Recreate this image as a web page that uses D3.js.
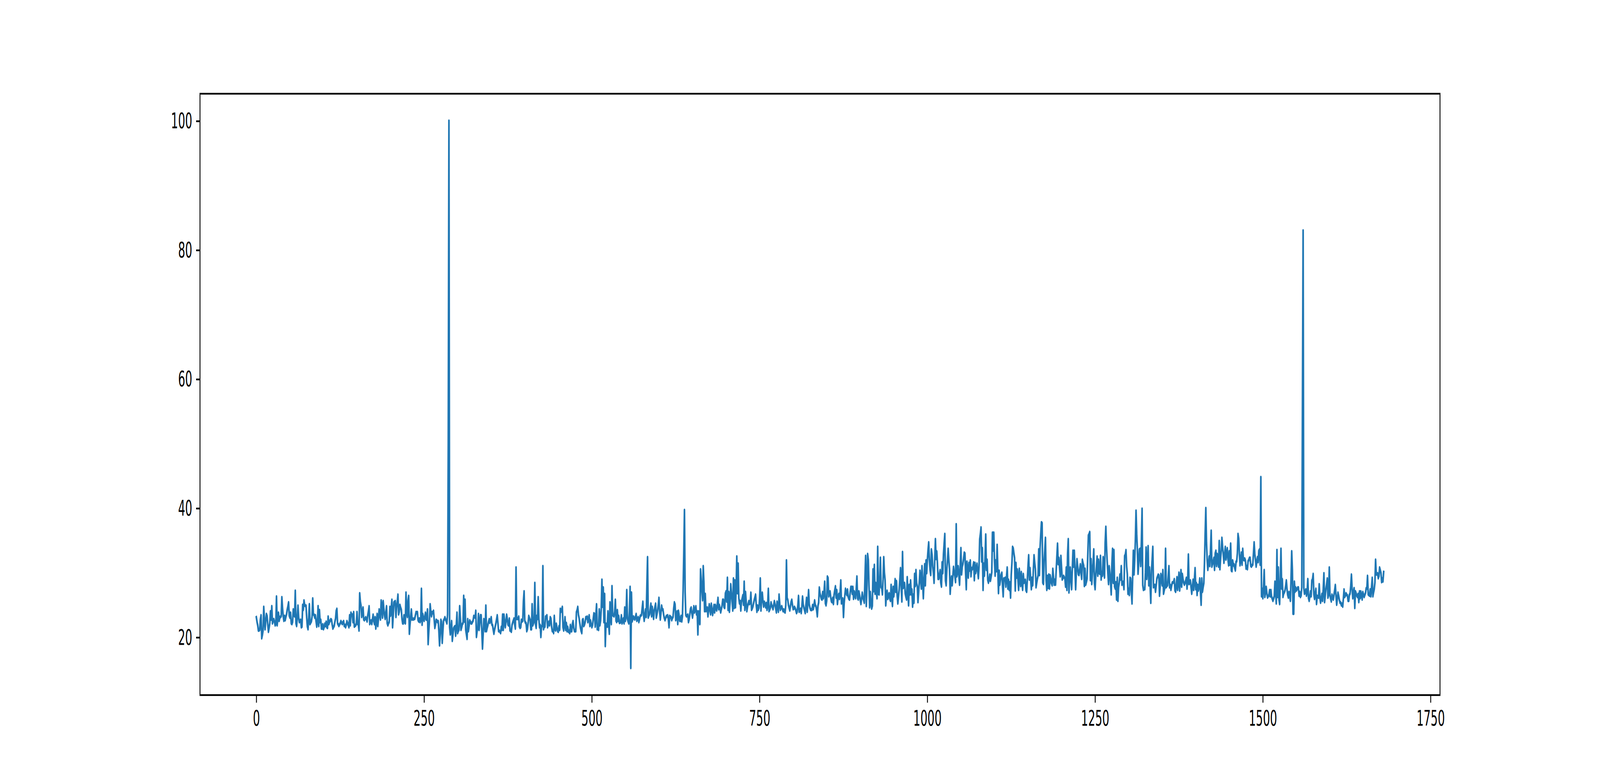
<!DOCTYPE html>
<html>
<head>
<meta charset="utf-8">
<script src="https://cdn.jsdelivr.net/npm/d3@7"></script>
<style>
  html, body { margin: 0; padding: 0; background: #ffffff; overflow: hidden; }
  svg { display: block; }
</style>
</head>
<body>
<svg id="chart" viewBox="0 0 8000 2000" preserveAspectRatio="none"></svg>
<script>
// ---- data (index 0..1680) ----
const values = [
23.1,22.4,21.9,21.1,21.1,21.2,22.8,23.4,19.9,20.4,
21.1,24.7,22.8,21.3,22.6,23.6,23.3,22.0,20.9,21.5,
22.2,24.0,22.8,24.8,22.2,22.6,22.8,22.4,21.9,22.1,
26.3,21.9,22.9,23.8,22.6,23.1,23.2,23.3,26.2,24.5,
23.3,22.6,23.3,22.7,23.2,23.6,24.3,24.8,25.4,23.4,
23.1,23.8,22.2,22.1,22.4,24.3,23.5,23.3,27.2,22.2,
21.8,23.1,24.9,23.1,22.4,22.6,22.7,21.6,21.7,25.0,
24.3,25.7,25.0,24.9,24.9,23.1,21.7,21.3,23.0,25.1,
22.1,22.3,22.5,23.2,26.0,23.6,23.5,23.1,23.4,22.5,
21.7,22.4,24.8,21.8,24.2,22.4,22.7,21.4,21.4,22.0,
21.3,21.6,22.1,21.8,22.4,21.6,21.5,23.2,22.1,22.4,
22.6,22.8,22.7,22.0,21.4,21.6,21.8,22.4,22.9,24.1,
24.4,22.2,22.0,21.8,22.0,22.2,22.5,22.3,22.1,22.3,
22.5,21.8,21.9,21.6,22.0,22.5,22.2,21.9,21.6,23.4,
21.9,23.8,23.5,23.5,22.4,23.9,21.7,21.8,21.9,22.1,
23.9,22.1,22.0,21.1,26.8,25.5,24.9,23.2,23.8,24.6,
22.8,22.7,22.9,23.1,22.8,22.5,23.4,24.0,24.8,22.1,
22.4,22.6,22.1,22.8,23.5,22.6,22.1,23.1,21.4,22.5,
23.6,21.8,22.9,24.3,23.5,22.8,25.7,25.1,23.1,25.6,
24.4,23.4,22.9,23.9,24.8,22.2,21.9,22.2,22.4,24.7,
23.4,24.6,25.8,21.6,23.5,25.4,25.5,25.6,23.2,24.7,
25.5,26.6,23.6,24.0,25.0,24.6,24.3,22.9,22.2,22.2,
23.4,22.4,22.2,26.9,23.8,23.2,25.7,26.4,20.6,22.0,
23.2,24.3,22.8,22.9,22.8,22.9,22.9,23.4,23.9,23.8,
23.9,22.7,22.5,22.9,22.4,22.7,27.5,22.0,23.6,23.0,
22.6,23.2,23.8,22.8,22.8,24.3,19.0,21.0,22.7,25.1,
24.0,23.3,23.9,23.8,24.1,22.8,21.5,22.0,22.7,22.6,
22.4,22.5,21.0,18.8,20.5,22.7,22.4,19.2,21.0,22.6,
22.8,23.1,22.8,22.5,22.2,23.6,50.0,100.0,21.6,20.5,
21.5,22.5,19.5,20.5,21.4,21.6,21.7,20.3,22.0,23.8,
20.7,21.0,21.2,24.8,23.0,21.2,21.6,22.1,22.2,26.4,
22.5,25.8,21.2,20.5,19.8,22.8,21.0,21.8,22.6,22.4,
22.2,22.2,22.4,22.6,23.3,23.2,23.1,24.1,20.1,21.0,
21.4,23.6,21.2,22.3,23.4,23.4,21.0,18.3,20.5,22.8,
22.6,21.0,24.9,21.0,21.5,21.9,22.4,22.8,22.3,22.7,
23.1,22.0,21.9,21.2,20.6,21.2,21.7,22.2,22.8,23.4,
22.2,21.0,21.0,20.9,20.7,21.6,21.2,23.5,21.2,23.5,
22.4,21.6,22.5,23.5,22.8,22.0,21.9,22.9,21.1,21.1,
20.9,21.9,22.3,22.6,22.9,22.0,21.4,30.8,22.9,22.9,
22.9,23.2,21.7,21.5,21.6,22.7,22.5,22.6,25.6,27.1,
22.6,22.3,22.2,21.0,21.3,22.2,23.3,23.0,22.7,21.3,
21.3,25.1,21.9,22.2,22.5,28.4,22.1,21.5,23.3,22.9,
26.2,22.8,21.6,21.9,20.1,21.7,21.8,31.0,21.3,21.7,
21.7,23.2,23.1,23.4,21.6,22.0,22.4,21.9,23.1,22.9,
21.7,21.0,21.0,20.7,23.3,21.3,21.1,22.1,21.5,21.0,
20.9,21.7,21.2,24.4,24.0,24.3,24.7,21.6,21.1,22.0,
23.1,21.2,22.2,21.0,21.6,20.9,21.0,20.7,21.9,21.0,
21.0,22.1,22.5,21.5,21.0,21.0,21.0,23.9,24.2,24.7,
23.5,23.0,22.2,21.5,21.0,20.7,22.7,22.8,21.8,22.0,
22.4,23.1,23.0,23.2,22.4,22.9,23.4,21.8,22.6,22.0,
21.6,21.9,22.8,23.7,23.6,21.7,23.5,25.1,21.3,21.4,
21.2,24.3,21.9,22.6,24.5,28.9,24.8,27.7,22.4,26.7,
18.7,22.1,21.9,21.7,24.0,22.0,20.6,25.4,23.5,22.1,
27.9,23.5,23.4,23.3,24.0,25.8,22.6,22.4,24.2,22.6,
23.3,22.3,22.3,22.4,23.4,22.2,22.5,22.9,22.2,24.6,
22.6,23.5,27.3,22.9,22.5,22.2,24.0,27.8,15.3,26.9,
22.5,22.8,23.2,23.0,22.8,23.2,23.6,22.6,22.8,23.1,
22.4,22.8,23.3,23.4,23.5,24.5,25.5,23.5,22.6,23.5,
24.3,23.2,28.0,32.4,23.1,23.4,23.6,24.4,25.2,23.3,
24.7,23.8,22.9,24.2,24.7,25.2,23.1,23.6,24.2,25.0,
26.1,24.0,22.8,23.8,24.9,24.3,24.3,23.5,23.0,22.7,
23.0,23.3,23.3,23.4,22.8,21.6,23.3,23.2,23.1,22.7,
23.0,23.2,24.5,25.4,25.1,22.7,23.1,24.0,22.1,24.1,
23.4,22.6,22.6,23.3,22.5,23.3,27.3,33.0,39.7,27.0,
23.5,23.3,23.4,23.5,22.4,22.8,23.6,24.4,24.6,23.8,
23.1,23.9,24.8,23.9,24.3,24.8,23.6,24.0,20.5,24.0,
23.0,22.1,30.5,28.8,27.2,25.8,31.0,28.4,24.1,26.7,
24.1,24.4,24.6,23.3,24.2,25.1,24.4,23.6,25.2,24.4,
23.5,24.2,25.0,23.9,25.0,24.6,24.2,25.2,26.1,24.4,
25.0,24.5,23.9,24.4,24.9,25.8,25.8,24.7,24.6,26.8,
27.1,25.6,29.2,24.3,27.0,24.0,25.5,28.2,26.9,25.6,
24.2,29.1,24.6,28.8,24.7,27.5,32.5,26.9,31.4,26.1,
25.3,25.6,24.2,25.6,26.0,26.5,25.1,28.6,24.3,27.0,
25.5,24.1,24.8,25.2,25.6,25.2,25.4,26.9,24.3,24.5,
24.8,25.3,25.8,26.2,26.6,25.0,24.0,24.9,24.3,24.6,
26.0,29.1,24.2,26.0,26.9,25.6,24.8,25.5,25.2,24.7,
25.3,24.3,25.0,27.5,24.1,24.3,24.6,25.4,25.0,24.7,
24.4,25.0,25.6,25.1,24.5,23.9,25.5,24.8,24.0,26.6,
25.2,24.3,24.6,24.8,24.4,24.1,24.3,24.0,23.9,25.0,
31.9,26.1,25.8,25.0,24.6,24.2,24.9,25.5,25.8,25.0,
24.4,24.5,24.7,24.5,24.2,23.8,24.0,25.0,26.4,24.0,
24.2,24.4,23.8,24.8,26.3,25.1,24.6,24.2,23.8,25.0,
26.1,24.0,25.5,27.3,25.1,24.6,24.3,24.3,24.3,25.0,
24.4,25.0,25.7,25.0,24.8,24.2,23.3,24.9,25.4,27.7,
26.8,26.4,26.0,25.9,27.0,26.1,27.0,28.6,25.3,25.0,
25.7,29.4,29.2,26.4,26.8,27.1,26.2,25.6,25.5,26.1,
25.2,26.6,27.3,27.9,26.2,27.3,25.2,26.3,26.7,26.0,
27.0,28.8,25.3,25.6,26.0,23.2,25.3,26.5,27.5,27.0,
26.6,27.4,26.3,26.0,25.9,27.0,27.8,27.8,26.8,27.8,
26.0,27.1,26.5,26.1,27.5,29.4,26.1,25.9,27.1,26.5,
25.8,25.2,26.0,26.9,26.2,25.8,25.4,29.0,32.6,24.9,
28.0,32.9,32.0,28.0,24.7,27.0,25.5,24.5,24.9,30.5,
27.2,31.2,26.8,28.4,27.0,26.1,34.0,26.8,26.7,29.0,
32.3,27.8,27.7,26.7,29.0,32.4,30.0,28.9,25.0,26.5,
27.2,26.0,26.4,26.8,26.0,25.7,28.1,26.0,24.9,27.8,
26.4,27.5,29.0,27.1,28.7,26.5,25.3,26.3,27.4,29.0,
30.7,28.0,25.6,33.2,27.7,28.0,28.4,26.8,26.3,25.9,
29.3,27.0,25.0,28.1,26.7,28.8,26.7,27.4,24.8,26.6,
25.4,29.8,28.0,30.4,28.4,27.9,25.5,27.0,28.6,30.3,
29.0,27.6,31.0,28.5,26.1,28.8,31.3,28.1,31.9,30.0,
32.0,33.5,34.7,32.0,30.5,29.7,33.6,32.8,31.0,30.0,
28.5,32.0,35.2,32.2,33.3,31.5,29.1,29.1,29.8,30.4,
28.5,27.9,31.6,30.0,32.9,34.5,36.0,28.8,28.1,30.5,
32.0,33.7,32.0,30.6,26.8,28.5,29.4,28.1,29.5,30.9,
30.1,29.5,28.6,37.5,29.5,30.2,31.0,29.5,28.2,31.0,
33.8,29.8,31.0,31.4,32.2,33.1,33.0,30.0,27.5,31.7,
30.5,29.3,31.5,30.4,31.9,29.5,30.7,30.6,31.0,31.6,
28.9,31.5,30.0,30.7,31.4,30.2,29.2,31.0,35.2,36.0,
37.0,31.8,33.8,27.4,31.4,29.6,32.5,35.9,30.5,32.0,
28.9,28.5,29.0,29.7,28.8,29.4,30.1,36.2,33.5,36.2,
32.0,29.6,31.9,30.3,34.3,30.5,26.9,30.3,28.2,29.0,
29.7,30.0,28.0,26.4,29.1,29.0,29.2,27.9,29.5,30.8,
27.6,28.9,27.4,28.5,26.2,29.7,31.5,34.0,33.8,33.0,
32.3,27.3,31.5,29.3,30.5,29.0,27.4,30.6,29.0,28.0,
30.1,28.5,27.4,29.8,28.5,28.7,28.9,27.3,27.1,29.0,
31.0,32.7,29.0,30.7,29.0,27.5,29.2,28.1,30.5,32.7,
31.5,30.6,27.8,28.5,29.1,29.6,33.6,29.7,34.0,36.0,
37.8,37.7,28.5,28.3,31.9,33.5,35.4,28.9,27.4,29.5,
27.7,29.7,27.6,29.6,29.0,28.4,28.1,30.6,29.4,28.2,
28.9,28.2,30.4,32.5,34.5,31.4,32.3,30.8,29.5,32.6,
30.8,29.0,29.2,29.5,29.3,29.1,27.9,30.8,27.4,33.0,
35.2,27.0,29.0,30.8,29.0,27.5,30.5,33.4,31.0,33.4,
30.5,27.5,30.0,32.1,31.0,29.8,29.7,30.5,31.3,30.0,
29.1,32.0,31.5,31.1,28.0,30.6,28.2,28.6,29.1,32.5,
35.8,36.0,36.3,28.9,32.1,28.3,30.0,31.5,33.6,28.4,
27.5,29.6,31.0,32.5,29.6,32.0,30.0,29.9,32.6,29.0,
30.1,29.6,32.4,30.5,29.3,34.7,37.1,34.0,31.8,30.0,
28.3,31.0,30.0,28.5,26.7,31.3,33.7,28.5,33.5,27.9,
27.6,28.5,25.9,29.2,25.7,27.8,28.5,29.7,29.0,31.0,
28.2,28.4,28.6,27.5,32.6,32.8,33.5,31.0,29.8,26.8,
27.5,26.6,29.2,29.1,27.0,25.3,29.5,33.4,29.8,32.0,
35.0,39.6,36.0,33.5,29.9,31.5,33.6,33.7,31.1,35.0,
39.9,28.1,27.4,27.5,27.5,30.0,33.9,29.1,31.0,34.1,
28.1,30.8,28.0,25.4,30.4,32.0,34.0,27.8,28.0,28.1,
27.1,28.0,29.1,29.4,29.7,29.6,26.5,28.0,29.8,29.0,
28.1,30.4,26.8,27.3,27.7,33.7,27.8,28.0,28.1,29.5,
31.0,27.8,28.1,27.4,28.0,28.5,28.5,28.6,29.0,27.3,
27.1,28.2,29.3,27.4,28.7,30.0,27.3,28.8,30.4,27.9,
29.8,29.0,28.5,28.2,28.4,28.8,29.2,27.6,29.0,32.8,
28.3,28.5,28.8,27.8,26.8,27.8,28.9,27.4,29.0,30.7,
27.5,28.4,26.6,28.1,27.3,28.0,29.1,27.0,25.1,29.1,
27.1,27.8,28.4,31.5,36.0,40.0,34.7,32.0,30.5,31.5,
32.5,31.1,33.5,36.5,31.0,31.4,31.8,32.3,30.5,33.0,
33.4,31.1,32.9,32.0,31.0,34.9,30.6,32.2,33.5,35.4,
34.0,32.9,31.6,32.8,34.0,32.1,33.0,33.8,32.1,31.2,
33.3,31.3,34.5,30.4,30.3,31.9,31.2,31.3,30.8,30.4,
31.7,31.8,33.0,36.0,35.3,33.0,31.2,32.0,33.1,31.3,
33.7,32.1,32.0,32.2,31.9,30.7,31.0,30.6,31.8,32.0,
32.3,32.3,31.1,31.0,31.2,31.3,33.0,34.7,32.9,32.0,
31.0,31.8,32.4,31.7,33.4,33.6,31.3,44.8,26.4,27.5,
26.1,28.0,30.4,26.3,27.0,27.8,26.8,26.2,26.4,26.5,
27.3,26.4,27.3,26.3,26.0,25.7,26.0,26.4,28.6,27.0,
25.3,33.5,26.3,30.8,25.9,25.2,29.0,33.7,27.6,29.0,
26.3,26.8,27.0,27.3,28.0,28.8,27.5,26.6,26.2,27.0,
26.4,25.7,29.0,33.3,30.4,23.7,23.7,28.6,27.1,27.7,
27.3,27.5,27.7,27.7,26.5,27.0,26.3,26.5,27.8,55.0,
83.0,27.7,26.8,27.0,27.4,26.5,27.1,29.0,26.1,25.7,
26.3,27.1,26.4,28.8,29.0,29.8,26.7,26.0,26.8,27.5,
25.2,26.4,26.3,26.2,28.2,26.2,25.4,26.0,26.7,25.7,
27.5,29.9,25.5,26.5,27.5,28.2,29.1,26.2,26.6,30.8,
26.6,26.0,25.6,26.6,26.2,25.9,26.6,27.3,28.1,26.5,
25.1,26.0,26.9,26.4,25.8,25.4,25.4,25.0,25.2,24.8,
26.0,27.4,26.3,26.5,26.8,26.6,26.5,25.7,25.7,26.6,
26.8,28.0,29.7,27.5,26.1,27.0,27.6,24.6,27.1,26.8,
26.5,26.3,26.7,25.5,27.1,26.1,27.1,26.5,25.9,27.0,
26.6,26.3,26.6,26.9,27.6,27.6,29.5,26.7,26.6,26.5,
27.4,26.4,27.8,29.2,26.4,27.0,27.5,28.5,32.0,29.8,
29.8,29.9,29.2,29.5,30.8,30.4,30.0,28.6,29.1,28.7,
30.1
];
const indices = values.map((v, i) => i);
const xTicks = [0, 250, 500, 750, 1000, 1250, 1500, 1750];
const yTicks = [20, 40, 60, 80, 100];

(function () {
  // ---- layout: matplotlib default subplot box on an 8000x2000 canvas (dpi 400) ----
  const W = 8000, H = 2000;
  const mLeft = 1000, mRight = 7200, mTop = 240, mBottom = 1780;
  const pt = 400 / 72;               // canvas pixels per point
  const fontPx = 10 * pt;
  const tickLen = 3.5 * pt, tickPad = 3.5 * pt;
  const spineW = 0.8 * pt, lineW = 1.5 * pt;

  // the 8000x2000 canvas fills the whole window
  const svg = d3.select("#chart")
    .attr("width", window.innerWidth || W)
    .attr("height", window.innerHeight || H);

  svg.append("rect").attr("width", W).attr("height", H).attr("fill", "#ffffff");

  // matplotlib-style 5% margins
  const xExt = d3.extent(indices), yExt = d3.extent(values);
  const xPad = (xExt[1] - xExt[0]) * 0.05, yPad = (yExt[1] - yExt[0]) * 0.05;
  const x = d3.scaleLinear().domain([xExt[0] - xPad, xExt[1] + xPad]).range([mLeft, mRight]);
  const y = d3.scaleLinear().domain([yExt[0] - yPad, yExt[1] + yPad]).range([mBottom, mTop]);

  // data line
  const line = d3.line().x((d, i) => x(indices[i])).y(d => y(d));
  svg.append("path")
    .datum(values)
    .attr("d", line)
    .attr("fill", "none")
    .attr("stroke", "#1f77b4")
    .attr("stroke-width", lineW)
    .attr("stroke-linejoin", "round")
    .attr("stroke-linecap", "square");

  // axes
  const xAxis = d3.axisBottom(x).tickValues(xTicks).tickFormat(d3.format("d"))
    .tickSize(tickLen).tickPadding(tickPad);
  const yAxis = d3.axisLeft(y).tickValues(yTicks).tickFormat(d3.format("d"))
    .tickSize(tickLen).tickPadding(tickPad);

  const gx = svg.append("g").attr("transform", `translate(0,${mBottom})`).call(xAxis);
  const gy = svg.append("g").attr("transform", `translate(${mLeft},0)`).call(yAxis);
  [gx, gy].forEach(g => {
    g.select(".domain").remove();
    g.selectAll(".tick line").attr("stroke", "#000").attr("stroke-width", spineW);
    g.selectAll(".tick text")
      .attr("fill", "#000")
      .attr("font-family", "'DejaVu Sans', sans-serif")
      .attr("font-size", fontPx);
  });

  // spines (box)
  svg.append("rect")
    .attr("x", mLeft).attr("y", mTop)
    .attr("width", mRight - mLeft).attr("height", mBottom - mTop)
    .attr("fill", "none")
    .attr("stroke", "#000")
    .attr("stroke-width", spineW)
    .attr("stroke-linejoin", "miter");
})();
</script>
</body>
</html>
